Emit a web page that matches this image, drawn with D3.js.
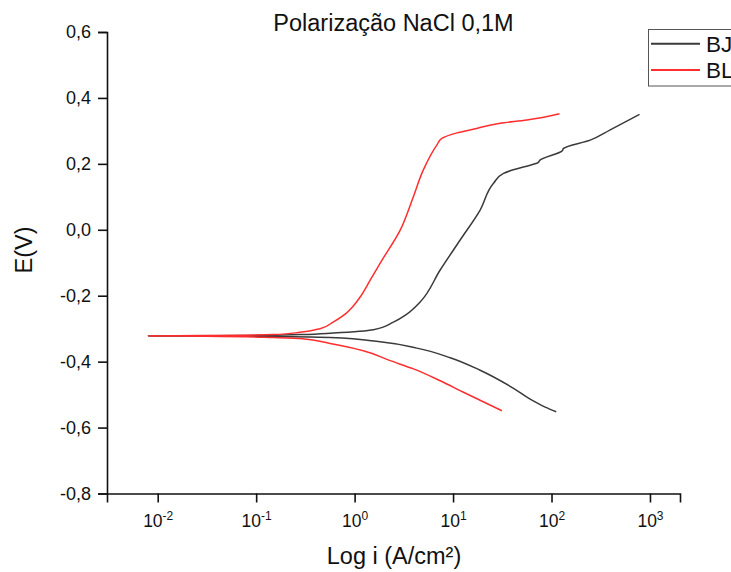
<!DOCTYPE html>
<html>
<head>
<meta charset="utf-8">
<script src="https://cdn.jsdelivr.net/npm/d3@7"></script>
<style>
  html, body { margin: 0; padding: 0; background: #fff; }
  svg { display: block; font-family: Arial, "Liberation Sans", sans-serif; }
</style>
</head>
<body>
<svg id="chart" width="731" height="572"></svg>
<script>
// ---- data (current density in A/cm², potential in V) ----
const seriesNames = ["BJ", "BL"];
const titleText = "Polarização NaCl 0,1M";
const xLabel = "Log i (A/cm²)";
const yLabel = "E(V)";
const xTickExps = [-2, -1, 0, 1, 2, 3];
const yTicks = [-0.8, -0.6, -0.4, -0.2, 0.0, 0.2, 0.4, 0.6];

// BJ cathodic branch (from Ecorr outward)
const bjCathI = [0.00804, 0.0867, 0.5636, 1.816, 4.285, 9.354, 18.84, 41.11, 60.67, 86.30, 111.7];
const bjCathE = [-0.322, -0.323, -0.327, -0.340, -0.359, -0.388, -0.426, -0.481, -0.514, -0.538, -0.552];
// BJ anodic branch
const bjAnodI = [0.00804, 0.0867, 0.2793, 0.6095, 1.552, 2.477, 3.388, 4.634, 7.396, 11.80, 18.84, 25.76, 32.51, 38.02, 65.61, 72.44, 76.74, 128.8, 132.4, 247.2, 394.5, 783.4];
const bjAnodE = [-0.322, -0.321, -0.318, -0.313, -0.303, -0.280, -0.256, -0.219, -0.122, -0.031, 0.060, 0.141, 0.171, 0.179, 0.199, 0.203, 0.212, 0.240, 0.247, 0.272, 0.303, 0.350];

// BL cathodic branch
const blCathI = [0.00804, 0.0316, 0.1496, 0.2793, 0.5636, 1.227, 2.296, 3.963, 7.396, 12.76, 31.33];
const blCathE = [-0.322, -0.323, -0.327, -0.330, -0.345, -0.367, -0.397, -0.422, -0.458, -0.493, -0.549];
// BL anodic branch
const blAnodI = [0.00804, 0.0269, 0.1486, 0.2793, 0.4457, 0.6053, 0.8017, 0.9660, 1.138, 1.439, 1.820, 2.904, 3.936, 4.977, 6.839, 7.691, 10.94, 16.00, 30.13, 56.23, 120.5];
const blAnodE = [-0.322, -0.321, -0.318, -0.311, -0.300, -0.280, -0.256, -0.232, -0.204, -0.153, -0.101, -0.001, 0.099, 0.181, 0.257, 0.277, 0.294, 0.305, 0.323, 0.333, 0.352];

const colors = ["#3a3a3a", "#ff2e2e"];

// ---- build ----
function branchPoints(ci, ce, ai, ae) {
  const pts = [];
  for (let k = ci.length - 1; k >= 0; k--) pts.push([ci[k], ce[k]]);
  for (let k = 1; k < ai.length; k++) pts.push([ai[k], ae[k]]);
  return pts;
}
const series = [
  { name: seriesNames[0], color: colors[0], pts: branchPoints(bjCathI, bjCathE, bjAnodI, bjAnodE) },
  { name: seriesNames[1], color: colors[1], pts: branchPoints(blCathI, blCathE, blAnodI, blAnodE) }
];

const svg = d3.select("#chart");
const padL = 107, padR = 680, padT = 32, padB = 493.5;

const x = d3.scaleLog().domain([Math.pow(10, -2.515), Math.pow(10, 3.305)]).range([padL, padR]);
const y = d3.scaleLinear().domain([-0.8, 0.6]).range([padB, padT]);

// curves
const line = d3.line().x(d => x(d[0])).y(d => y(d[1])).curve(d3.curveMonotoneY);
series.forEach(s => {
  svg.append("path").attr("d", line(s.pts))
    .attr("fill", "none").attr("stroke", s.color).attr("stroke-width", 1.5)
    .attr("stroke-linejoin", "round");
});

// y axis
const yAxis = d3.axisLeft(y).tickValues(yTicks).tickSize(9).tickPadding(7)
  .tickFormat(d => d3.format(".1f")(d).replace(".", ",").replace("−", "-"));
const gy = svg.append("g").attr("transform", `translate(${padL},0)`).call(yAxis);
gy.select(".domain").attr("stroke", "#111").attr("stroke-width", 1.6);
gy.selectAll(".tick line").attr("stroke", "#111").attr("stroke-width", 1.6);
gy.selectAll(".tick text").attr("font-size", 18).attr("fill", "#111")
  .attr("font-family", "Arial, 'Liberation Sans', sans-serif");

// x axis
const xAxis = d3.axisBottom(x).tickValues(xTickExps.map(e => Math.pow(10, e))).tickSize(9).tickFormat("");
const gx = svg.append("g").attr("transform", `translate(0,${padB})`).call(xAxis);
gx.select(".domain").attr("stroke", "#111").attr("stroke-width", 1.6);
gx.selectAll(".tick line").attr("stroke", "#111").attr("stroke-width", 1.6);
gx.selectAll(".tick").each(function(d, i) {
  const t = d3.select(this).append("text")
    .attr("y", 33).attr("text-anchor", "middle").attr("fill", "#111")
    .attr("font-size", 17.5).attr("font-family", "Arial, 'Liberation Sans', sans-serif");
  t.append("tspan").text("10");
  t.append("tspan").attr("dy", -7).attr("font-size", 12).text(String(xTickExps[i]));
});

// title and axis labels
svg.append("text").attr("x", 393.5).attr("y", 31).attr("text-anchor", "middle")
  .attr("font-size", 23.5).attr("fill", "#111").text(titleText);
svg.append("text").attr("x", 394).attr("y", 564).attr("text-anchor", "middle")
  .attr("font-size", 23.5).attr("fill", "#111").text(xLabel);
svg.append("text").attr("transform", "translate(31.5,250) rotate(-90)").attr("text-anchor", "middle")
  .attr("font-size", 23.5).attr("fill", "#111").text(yLabel);

// legend
const lg = svg.append("g");
lg.append("rect").attr("x", 648.5).attr("y", 29.5).attr("width", 120).attr("height", 56.5)
  .attr("fill", "#fff").attr("stroke", "#555").attr("stroke-width", 1);
series.forEach((s, i) => {
  const ly = 43.7 + i * 26.3;
  lg.append("line").attr("x1", 651).attr("x2", 700).attr("y1", ly).attr("y2", ly)
    .attr("stroke", s.color).attr("stroke-width", 2);
  lg.append("text").attr("x", 706).attr("y", ly + 8).attr("font-size", 22.5)
    .attr("fill", "#111").text(s.name);
});
</script>
</body>
</html>
